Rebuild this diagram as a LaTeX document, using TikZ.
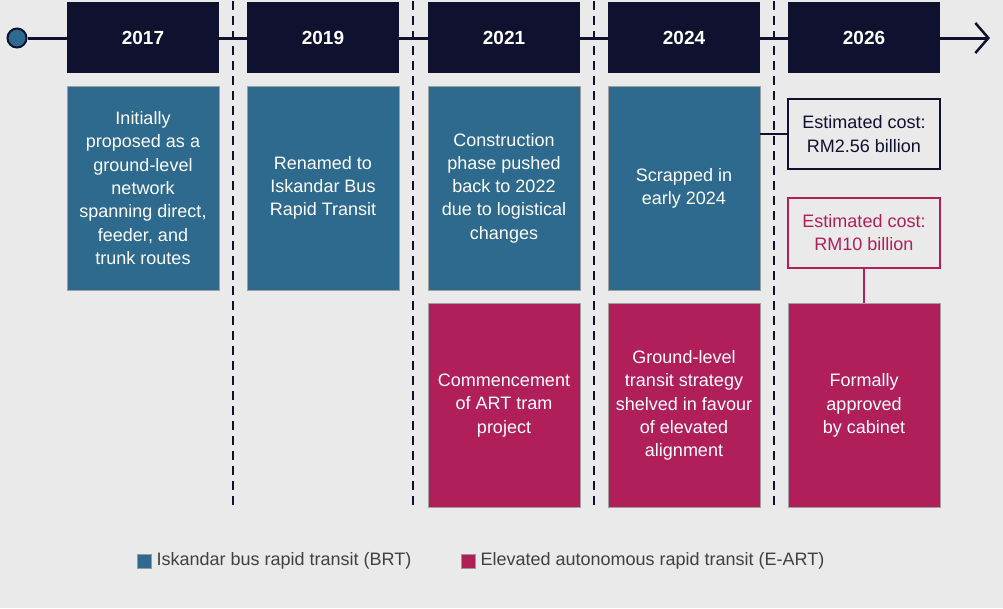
\documentclass[tikz,border=0pt]{standalone}
\usepackage{fontspec}
\setmainfont{Liberation Sans}
\usetikzlibrary{positioning,arrows.meta}
\definecolor{navy}{HTML}{10112F}
\definecolor{brtblue}{HTML}{2E6A8E}
\definecolor{eartred}{HTML}{B01F5A}
\definecolor{bggrey}{HTML}{EAEAEA}
\definecolor{legendtext}{HTML}{404040}

\begin{document}
\begin{tikzpicture}[
  x=1pt, y=-1pt, font=\fontsize{18}{23.3}\selectfont,
  yearbox/.style={rectangle, fill=navy, text=white, font=\fontsize{19}{20}\selectfont\bfseries,
    minimum width=152pt, minimum height=71pt, inner sep=0pt},
  brtbox/.style={rectangle, fill=brtblue, draw=gray!75, line width=0.8pt, text=white,
    minimum width=152pt, minimum height=204pt, align=center, inner sep=0pt},
  eartbox/.style={brtbox, fill=eartred},
  costbox/.style={rectangle, fill=bggrey, draw=navy, line width=2pt, text=navy,
    minimum width=152pt, minimum height=70pt, align=center, inner sep=0pt},
  sep/.style={navy, line width=2pt, dash pattern=on 9pt off 6pt},
  key/.style={rectangle, draw=gray!80, line width=0.6pt, minimum size=14pt, inner sep=0pt},
  keytext/.style={text=legendtext, anchor=west, inner sep=0pt}
]
\fill[bggrey] (0,0) rectangle (1003,608);
\useasboundingbox (0,0) rectangle (1003,608);

% separators between the years
\foreach \sx in {233,413,594,774}
  \draw[sep] (\sx,1) -- (\sx,508);

% timeline
\node[circle, fill=brtblue, draw=navy, line width=2pt, minimum size=19pt, inner sep=0pt] (start) at (17,38) {};
\coordinate (tip) at (990,38);
\draw[navy, line width=3pt, -{Straight Barb[length=13pt, width=30pt, line width=2.5pt]}] (start) -- (tip);

\node[yearbox] (y17) at (143,37.5) {2017};
\node[yearbox] (y19) at (323,37.5) {2019};
\node[yearbox] (y21) at (504,37.5) {2021};
\node[yearbox] (y24) at (684,37.5) {2024};
\node[yearbox] (y26) at (864,37.5) {2026};

% BRT
\node[brtbox] (b17) at (143,188) {Initially\\proposed as a\\ground-level\\network\\spanning direct,\\feeder, and\\trunk routes};
\node[brtbox] (b19) at (323,188) {Renamed to\\Iskandar Bus\\Rapid Transit};
\node[brtbox] (b21) at (504,188) {Construction\\phase pushed\\back to 2022\\due to logistical\\changes};
\node[brtbox] (b24) at (684,188) {Scrapped in\\early 2024};

% E-ART
\node[eartbox] (e21) at (504,405.5) {Commencement\\of ART tram\\project};
\node[eartbox] (e24) at (684,405.5) {Ground-level\\transit strategy\\shelved in favour\\of elevated\\alignment};
\node[eartbox] (e26) at (864,405.5) {Formally\\approved\\by cabinet};

% costs
\node[costbox] (c1) at (864,134) {Estimated cost:\\RM2.56 billion};
\node[costbox, draw=eartred, text=eartred] (c2) at (864,232.5) {Estimated cost:\\RM10 billion};
\draw[navy, line width=1.3pt] (b24.east |- c1.west) -- (c1.west);
\draw[eartred, line width=1.8pt] (c2.south) -- (e26.north);

% legend
\node[key, fill=brtblue] (k1) at (144,561) {};
\node[keytext, right=5pt of k1] (k1t) {Iskandar bus rapid transit (BRT)};
\node[key, fill=eartred] (k2) at (468,561) {};
\node[keytext, right=5pt of k2] (k2t) {Elevated autonomous rapid transit (E-ART)};
\end{tikzpicture}
\end{document}
